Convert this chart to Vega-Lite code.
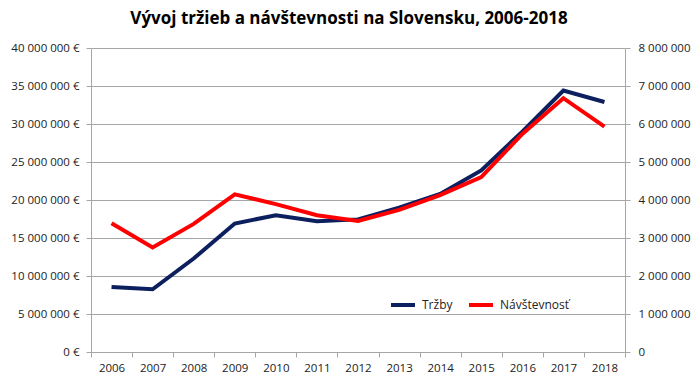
{
  "$schema": "https://vega.github.io/schema/vega-lite/v6.json",
  "width": 534,
  "height": 304,
  "autosize": {"type": "none"},
  "padding": {"left": 91, "top": 48, "right": 75, "bottom": 33},
  "config": {
    "locale": {"number": {"decimal": ",", "thousands": " ", "grouping": [3], "currency": ["", " €"]}},
    "view": {"stroke": null},
    "font": "Open Sans",
    "axis": {"labelFont": "Open Sans", "labelFontSize": 11.5, "labelColor": "#222222", "domainColor": "#a6a6a6", "tickColor": "#a6a6a6", "gridColor": "#a6a6a6", "tickSize": 5}
  },
  "title": {"text": "Vývoj tržieb a návštevnosti na Slovensku, 2006-2018", "font": "Open Sans", "fontSize": 17, "fontWeight": "bold", "color": "#000000", "anchor": "middle", "dx": -9, "offset": 14},
  "data": {"values": [
    {"rok": "2006", "seria": "Tržby", "hodnota": 8550000},
    {"rok": "2007", "seria": "Tržby", "hodnota": 8250000},
    {"rok": "2008", "seria": "Tržby", "hodnota": 12300000},
    {"rok": "2009", "seria": "Tržby", "hodnota": 16900000},
    {"rok": "2010", "seria": "Tržby", "hodnota": 18000000},
    {"rok": "2011", "seria": "Tržby", "hodnota": 17200000},
    {"rok": "2012", "seria": "Tržby", "hodnota": 17450000},
    {"rok": "2013", "seria": "Tržby", "hodnota": 19000000},
    {"rok": "2014", "seria": "Tržby", "hodnota": 20800000},
    {"rok": "2015", "seria": "Tržby", "hodnota": 23900000},
    {"rok": "2016", "seria": "Tržby", "hodnota": 29000000},
    {"rok": "2017", "seria": "Tržby", "hodnota": 34400000},
    {"rok": "2018", "seria": "Tržby", "hodnota": 32900000},
    {"rok": "2006", "seria": "Návštevnosť", "hodnota": 3390000},
    {"rok": "2007", "seria": "Návštevnosť", "hodnota": 2750000},
    {"rok": "2008", "seria": "Návštevnosť", "hodnota": 3370000},
    {"rok": "2009", "seria": "Návštevnosť", "hodnota": 4150000},
    {"rok": "2010", "seria": "Návštevnosť", "hodnota": 3890000},
    {"rok": "2011", "seria": "Návštevnosť", "hodnota": 3600000},
    {"rok": "2012", "seria": "Návštevnosť", "hodnota": 3450000},
    {"rok": "2013", "seria": "Návštevnosť", "hodnota": 3740000},
    {"rok": "2014", "seria": "Návštevnosť", "hodnota": 4130000},
    {"rok": "2015", "seria": "Návštevnosť", "hodnota": 4600000},
    {"rok": "2016", "seria": "Návštevnosť", "hodnota": 5740000},
    {"rok": "2017", "seria": "Návštevnosť", "hodnota": 6680000},
    {"rok": "2018", "seria": "Návštevnosť", "hodnota": 5930000}
  ]},
  "encoding": {
    "x": {"field": "rok", "type": "ordinal", "scale": {"type": "band", "paddingInner": 0, "paddingOuter": 0},
      "axis": {"title": null, "labelAngle": 0, "tickBand": "extent", "labelPadding": 5, "grid": false}},
    "color": {"field": "seria", "type": "nominal",
      "scale": {"domain": ["Tržby", "Návštevnosť"], "range": ["#0c1f5e", "#ff0000"]},
      "legend": {"title": null, "orient": "none", "legendX": 298, "legendY": 243, "direction": "horizontal",
        "symbolType": "stroke", "symbolStrokeWidth": 4, "symbolSize": 576, "labelFont": "Open Sans", "labelFontSize": 12, "labelColor": "#222222", "columnPadding": 8, "labelOffset": 5}}
  },
  "layer": [
    {
      "transform": [{"filter": "datum.seria === 'Tržby'"}],
      "mark": {"type": "line", "strokeWidth": 4, "strokeJoin": "miter"},
      "encoding": {
        "y": {"field": "hodnota", "type": "quantitative", "scale": {"domain": [0, 40000000], "nice": false},
          "axis": {"title": null, "values": [0, 5000000, 10000000, 15000000, 20000000, 25000000, 30000000, 35000000, 40000000], "format": "$,d", "labelPadding": 7, "grid": true}}
      }
    },
    {
      "transform": [{"filter": "datum.seria === 'Návštevnosť'"}],
      "mark": {"type": "line", "strokeWidth": 4, "strokeJoin": "miter"},
      "encoding": {
        "y": {"field": "hodnota", "type": "quantitative", "scale": {"domain": [0, 8000000], "nice": false},
          "axis": {"title": null, "orient": "right", "values": [0, 1000000, 2000000, 3000000, 4000000, 5000000, 6000000, 7000000, 8000000], "format": ",d", "labelPadding": 8, "grid": false}}
      }
    }
  ],
  "resolve": {"scale": {"y": "independent"}}
}
